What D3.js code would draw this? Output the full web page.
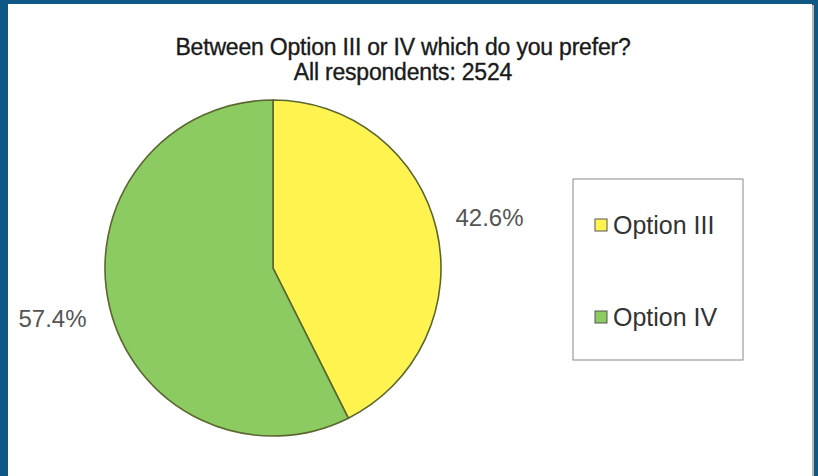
<!DOCTYPE html>
<html>
<head>
<meta charset="utf-8">
<script src="https://cdn.jsdelivr.net/npm/d3@7"></script>
<style>
  body { margin: 0; background: #0f5886; }
  svg { display: block; }
</style>
</head>
<body>
<svg id="chart" width="818" height="476"></svg>
<script>
// chart data
var categories = ["Option III", "Option IV"]
var values = [42.6, 57.4]
var colors = ["#fff44f", "#8ccb62"]
var title_lines = ["Between Option III or IV which do you prefer?", "All respondents:  2524"]

var width = 818
var height = 476
var svg = d3.select("#chart")

// blue frame + white panel
svg.append("rect").attr("width", width).attr("height", height).attr("fill", "#0f5886")
svg.append("rect").attr("x", 9).attr("y", 5).attr("width", 805).attr("height", height)
    .attr("fill", "#b9b9b9")
svg.append("rect").attr("x", 8).attr("y", 4).attr("width", 804).attr("height", height)
    .attr("fill", "#ffffff")

// title
svg.selectAll(".title")
    .data(title_lines)
    .enter().append("text")
    .attr("class", "title")
    .attr("x", 403)
    .attr("y", function(d, i) { return 55 + i * 25 })
    .attr("text-anchor", "middle")
    .attr("font-family", "Liberation Sans Narrow, Arial Narrow, Liberation Sans, Arial, sans-serif")
    .attr("font-size", "23px")
    .attr("letter-spacing", "-0.2px")
    .attr("fill", "#1a1a1a")
    .attr("stroke", "#1a1a1a")
    .attr("stroke-width", 0.35)
    .text(function(d) { return d })

/*---------------- pie ----------------*/
var cx = 273, cy = 268, r = 168

var pie = d3.pie().sort(null).value(function(d) { return d })
var arc = d3.arc().innerRadius(0).outerRadius(r)
var labelArc = d3.arc().innerRadius(r * 1.3).outerRadius(r * 1.3)

var g = svg.append("g").attr("transform", "translate(" + cx + "," + cy + ")")

g.selectAll("path")
    .data(pie(values))
    .enter().append("path")
    .attr("d", arc)
    .attr("fill", function(d, i) { return colors[i] })
    .attr("stroke", "#5b6630")
    .attr("stroke-width", 1.6)

g.selectAll(".lbl")
    .data(pie(values))
    .enter().append("text")
    .attr("class", "lbl")
    .attr("transform", function(d) { return "translate(" + labelArc.centroid(d) + ")" })
    .attr("dx", function(d, i) { return i == 0 ? 4 : -8 })
    .attr("dy", "0.35em")
    .attr("text-anchor", "middle")
    .attr("font-family", "Liberation Sans, Arial, sans-serif")
    .attr("font-size", "24px")
    .attr("fill", "#555")
    .text(function(d) { return d.data.toFixed(1) + "%" })

/*---------------- legend ----------------*/
var legend = svg.append("g")
legend.append("rect")
    .attr("x", 573).attr("y", 179).attr("width", 170).attr("height", 181)
    .attr("fill", "#fff").attr("stroke", "#888").attr("stroke-width", 1)

var items = legend.selectAll(".item")
    .data(categories)
    .enter().append("g")
    .attr("class", "item")
    .attr("transform", function(d, i) { return "translate(595," + (225 + i * 92) + ")" })

items.append("rect")
    .attr("x", 0).attr("y", -6).attr("width", 12).attr("height", 12)
    .attr("fill", function(d, i) { return colors[i] })
    .attr("stroke", "#555").attr("stroke-width", 1)

items.append("text")
    .attr("x", 18).attr("dy", "0.36em")
    .attr("font-family", "Liberation Sans, Arial, sans-serif")
    .attr("font-size", "25px")
    .attr("fill", "#333")
    .text(function(d) { return d })
</script>
</body>
</html>
